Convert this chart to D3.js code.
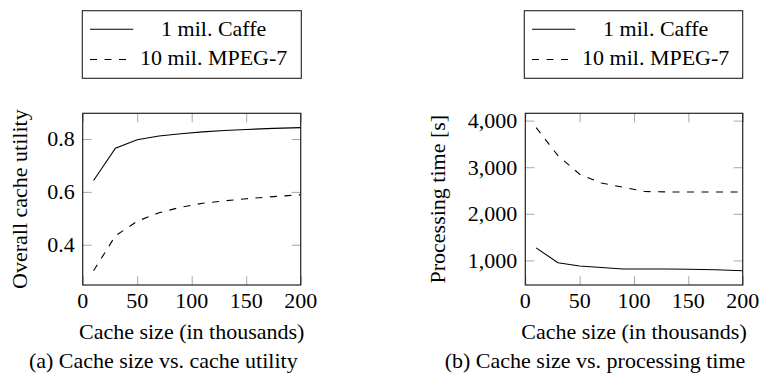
<!DOCTYPE html>
<html>
<head>
<meta charset="utf-8">
<script src="https://cdn.jsdelivr.net/npm/d3@7"></script>
<style>
  html, body { margin: 0; padding: 0; background: #fff; }
  svg { display: block; }
</style>
</head>
<body>
<svg id="chart" width="761" height="374" font-family="'Liberation Serif', 'Times New Roman', Times, 'DejaVu Serif', serif"></svg>
<script>
// ---- data ----
const cacheSizes = [10, 30, 50, 70, 90, 110, 130, 150, 175, 200];
const utilityCaffe = [0.643, 0.765, 0.797, 0.811, 0.820, 0.827, 0.832, 0.836, 0.840, 0.843];
const utilityMpeg7 = [0.302, 0.434, 0.489, 0.521, 0.542, 0.557, 0.566, 0.574, 0.582, 0.589];
const timeCaffe = [1270, 950, 880, 850, 815, 815, 815, 810, 800, 780];
const timeMpeg7 = [3850, 3250, 2850, 2660, 2570, 2480, 2470, 2470, 2470, 2470];
const seriesNames = ["1 mil. Caffe", "10 mil. MPEG-7"];
const xTicks = [0, 50, 100, 150, 200];
const utilityTicks = [0.4, 0.6, 0.8];
const timeTicks = [1000, 2000, 3000, 4000];
const xLabel = "Cache size (in thousands)";
const yLabels = ["Overall cache utility", "Processing time [s]"];
const captions = ["(a) Cache size vs. cache utility", "(b) Cache size vs. processing time"];

const svg = d3.select("#chart");
const FONT = "'Liberation Serif', 'Times New Roman', Times, 'DejaVu Serif', serif";
const FS = 22;
const DASH = "7,7.5";

function txt(g) {
  return g.append("text").attr("font-family", FONT).attr("font-size", FS).attr("fill", "#000");
}

function panel(opts) {
  const { left, right, top, bottom, series, yTicks, yFmt, yLabel, yLabelX, caption, captionX, legendX } = opts;
  const g = svg.append("g");
  const x = d3.scaleLinear().domain([0, 200]).range([left, right]);
  const all = series.flat();
  const mn = d3.min(all), mx = d3.max(all), pad = (mx - mn) * 0.1;
  const y = d3.scaleLinear().domain([mn - pad, mx + pad]).range([bottom, top]);
  const tl = 9;

  // ticks (inside, mirrored) using d3 axes
  const axB = g.append("g").attr("transform", `translate(0,${bottom})`)
    .call(d3.axisTop(x).tickValues(xTicks).tickSize(tl).tickFormat(""));
  const axT = g.append("g").attr("transform", `translate(0,${top})`)
    .call(d3.axisBottom(x).tickValues(xTicks).tickSize(tl).tickFormat(""));
  const axL = g.append("g").attr("transform", `translate(${left},0)`)
    .call(d3.axisRight(y).tickValues(yTicks).tickSize(tl).tickFormat(""));
  const axR = g.append("g").attr("transform", `translate(${right},0)`)
    .call(d3.axisLeft(y).tickValues(yTicks).tickSize(tl).tickFormat(""));
  [axB, axT, axL, axR].forEach(a => {
    a.select(".domain").remove();
    a.selectAll(".tick text").remove();
    a.selectAll(".tick line").attr("stroke", "#a8a8a8").attr("stroke-width", 1);
  });

  // tick labels
  xTicks.forEach(d => {
    txt(g).attr("x", x(d)).attr("y", bottom + 23).attr("text-anchor", "middle").text(d);
  });
  yTicks.forEach(d => {
    txt(g).attr("x", left - 8).attr("y", y(d) + 7.5).attr("text-anchor", "end").text(yFmt(d));
  });

  // lines
  const line = d3.line().x((d, i) => x(cacheSizes[i])).y(d => y(d));
  g.append("path").datum(series[0]).attr("d", line)
    .attr("fill", "none").attr("stroke", "#000").attr("stroke-width", 1.1);
  g.append("path").datum(series[1]).attr("d", line)
    .attr("fill", "none").attr("stroke", "#000").attr("stroke-width", 1.1)
    .attr("stroke-dasharray", DASH);

  // frame
  g.append("rect").attr("x", left).attr("y", top)
    .attr("width", right - left).attr("height", bottom - top)
    .attr("fill", "none").attr("stroke", "#222").attr("stroke-width", 1.2);

  // labels
  txt(g).attr("x", (left + right) / 2).attr("y", bottom + 53.5)
    .attr("text-anchor", "middle").text(xLabel);
  txt(g).attr("transform", `translate(${yLabelX},${(top + bottom) / 2}) rotate(-90)`)
    .attr("text-anchor", "middle").text(yLabel);
  txt(g).attr("x", captionX).attr("y", 368)
    .attr("text-anchor", "middle").text(caption);

  // legend
  const lx = legendX, lw = right - left + 1;
  const lg = g.append("g");
  lg.append("rect").attr("x", lx).attr("y", 10.7).attr("width", lw).attr("height", 67.6)
    .attr("fill", "#fff").attr("stroke", "#222").attr("stroke-width", 1.1);
  const rows = [{ name: seriesNames[0], ly: 29.3, by: 36, dash: null },
                { name: seriesNames[1], ly: 59.5, by: 65.3, dash: DASH }];
  rows.forEach(r => {
    const l = lg.append("line").attr("x1", lx + 7.7).attr("x2", lx + 51)
      .attr("y1", r.ly).attr("y2", r.ly).attr("stroke", "#000").attr("stroke-width", 1.1);
    if (r.dash) l.attr("stroke-dasharray", r.dash);
    txt(lg).attr("x", lx + 131.4).attr("y", r.by).attr("text-anchor", "middle").text(r.name);
  });
}

panel({
  left: 82.7, right: 300.7, top: 113.3, bottom: 285,
  series: [utilityCaffe, utilityMpeg7], yTicks: utilityTicks,
  yFmt: d => d3.format(".1f")(d), yLabel: yLabels[0], yLabelX: 26.5,
  caption: captions[0], captionX: 163.3, legendX: 82.3
});
panel({
  left: 525.3, right: 742.7, top: 113.3, bottom: 285,
  series: [timeCaffe, timeMpeg7], yTicks: timeTicks,
  yFmt: d => d3.format(",")(d), yLabel: yLabels[1], yLabelX: 445,
  caption: captions[1], captionX: 595, legendX: 524.3
});
</script>
</body>
</html>
